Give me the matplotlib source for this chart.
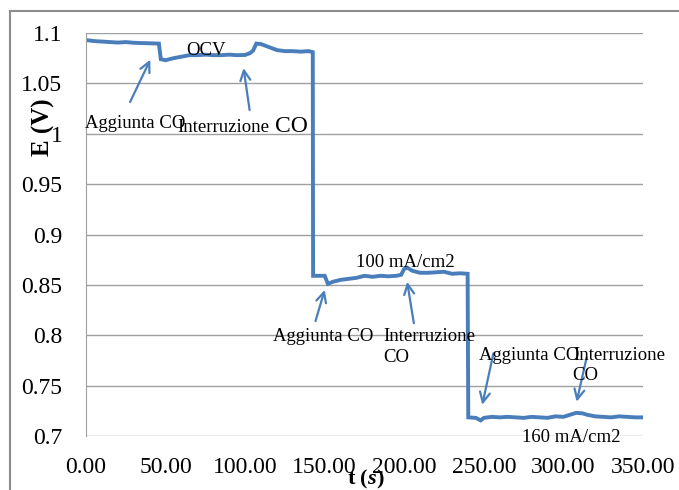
import matplotlib
matplotlib.use('Agg')
import matplotlib.pyplot as plt
from matplotlib.patches import Rectangle

# ─── DATI ───
t_s = [0, 5, 10, 15, 20, 25, 30, 35, 40, 45, 45.8, 47, 50, 55, 60, 65, 70, 75,
       80, 85, 90, 95, 100, 103, 105, 107, 110, 115, 120, 125, 130, 135, 140,
       142.5, 142.7, 145, 150, 152, 155, 160, 165, 170, 175, 180, 185, 190, 195,
       198, 200, 202, 205, 210, 215, 220, 225, 230, 235, 239.8, 240.2, 245, 248,
       250, 255, 260, 265, 270, 275, 280, 285, 290, 295, 300, 305, 308, 312,
       315, 320, 325, 330, 335, 340, 345, 349]
E_V = [1.093, 1.092, 1.0915, 1.091, 1.0905, 1.091, 1.0903, 1.090, 1.0898,
       1.0895, 1.0895, 1.074, 1.073, 1.075, 1.0765, 1.078, 1.078, 1.0785,
       1.078, 1.078, 1.0785, 1.078, 1.0782, 1.080, 1.0825, 1.0895, 1.089,
       1.086, 1.083, 1.082, 1.082, 1.0815, 1.082,
       1.081, 0.859, 0.859, 0.859, 0.851, 0.853, 0.855, 0.856, 0.857, 0.859,
       0.858, 0.859, 0.8585, 0.859, 0.860, 0.866, 0.867, 0.864, 0.862, 0.862,
       0.8625, 0.863, 0.861, 0.8615, 0.861, 0.7185, 0.718, 0.7155,
       0.718, 0.719, 0.7185, 0.719, 0.7185, 0.718, 0.719, 0.7185, 0.718,
       0.7195, 0.719, 0.7215, 0.723, 0.7225,
       0.721, 0.7195, 0.719, 0.7185, 0.7195, 0.719, 0.7185, 0.7185]

x_ticks = [0, 50, 100, 150, 200, 250, 300, 350]
y_ticks = [0.7, 0.75, 0.8, 0.85, 0.9, 0.95, 1.0, 1.05, 1.1]
y_labels = ['0.7', '0.75', '0.8', '0.85', '0.9', '0.95', '1', '1.05', '1.1']

# frecce: (coda) -> (punta)
arrow_tail = [(27.7, 1.0315), (102.8, 1.0235), (144.2, 0.814), (206.0, 0.812),
              (256.0, 0.782), (314.6, 0.778)]
arrow_head = [(40.4, 1.0735), (99.0, 1.0652), (150.0, 0.845), (201.8, 0.853),
              (249.0, 0.731), (308.3, 0.734)]

BLU = '#4A7EBB'
GRIGIO = '#A0A0A0'
plt.rcParams['font.family'] = ['Liberation Serif', 'DejaVu Serif']
plt.rcParams['mathtext.fontset'] = 'custom'
plt.rcParams['mathtext.it'] = 'Liberation Serif:italic:bold'
plt.rcParams['mathtext.rm'] = 'Liberation Serif:bold'

fig = plt.figure(figsize=(6.79, 4.90), dpi=100)
W, H = 679, 490
ax = fig.add_axes([86 / W, 1 - 436 / H, (643 - 86) / W, (436 - 33) / H])

# cornice esterna
fig.patches.append(Rectangle((10 / W, -0.1), 1.2, 1 - 11 / H + 0.1,
                             transform=fig.transFigure, fill=False,
                             edgecolor='#8C8C8C', lw=1.5))

ax.plot(t_s, E_V, color=BLU, lw=2.8, solid_joinstyle='miter')

ax.set_xlim(0, 350)
ax.set_ylim(0.7, 1.1)
ax.set_xticks(x_ticks)
ax.set_xticklabels([f'{v:.2f}' for v in x_ticks])
ax.set_yticks(y_ticks)
ax.set_yticklabels(y_labels)
ax.tick_params(length=0, labelsize=17)
ax.tick_params(axis='y', pad=17)
ax.tick_params(axis='x', pad=15)
ax.yaxis.grid(True, color=GRIGIO, lw=1)
for s in ['top', 'right', 'bottom']:
    ax.spines[s].set_visible(False)
ax.spines['left'].set_color(GRIGIO)
ax.set_axisbelow(True)

for (tx, ty), (hx, hy) in zip(arrow_tail, arrow_head):
    ax.annotate('', xy=(hx, hy), xytext=(tx, ty),
                arrowprops=dict(arrowstyle='->', color=BLU, lw=1.6,
                                mutation_scale=18, shrinkA=0, shrinkB=0))

fs = 13.5
ax.text(31, 1.0106, 'Aggiunta CO', fontsize=fs, ha='center', va='center')
ax.text(57.4, 1.0065, 'Interruzione', fontsize=fs, ha='left', va='center')
ax.text(119, 1.0075, 'CO', fontsize=17, ha='left', va='center')
ax.text(75.6, 1.083, 'OCV', fontsize=fs, ha='center', va='center')
ax.text(200.5, 0.872, '100 mA/cm2', fontsize=fs, ha='center', va='center')
ax.text(148.8, 0.799, 'Aggiunta CO', fontsize=fs, ha='center', va='center')
ax.text(187, 0.799, 'Interruzione', fontsize=fs, ha='left', va='center')
ax.text(187, 0.778, 'CO', fontsize=fs, ha='left', va='center')
ax.text(247, 0.780, 'Aggiunta CO', fontsize=fs, ha='left', va='center')
ax.text(306.4, 0.780, 'Interruzione', fontsize=fs, ha='left', va='center')
ax.text(313.4, 0.760, 'CO', fontsize=fs, ha='center', va='center')
ax.text(304.7, 0.699, '160 mA/cm2', fontsize=fs, ha='center', va='center')

fig.text(43 / W, 1 - 127 / H, 'E (V)', rotation=90, fontsize=18,
         fontweight='bold', ha='center', va='center')
fig.text(366 / W, 1 - 479 / H, r't ($s$)', fontsize=16,
         fontweight='bold', ha='center', va='center')

fig.savefig('out.png', dpi=100)
